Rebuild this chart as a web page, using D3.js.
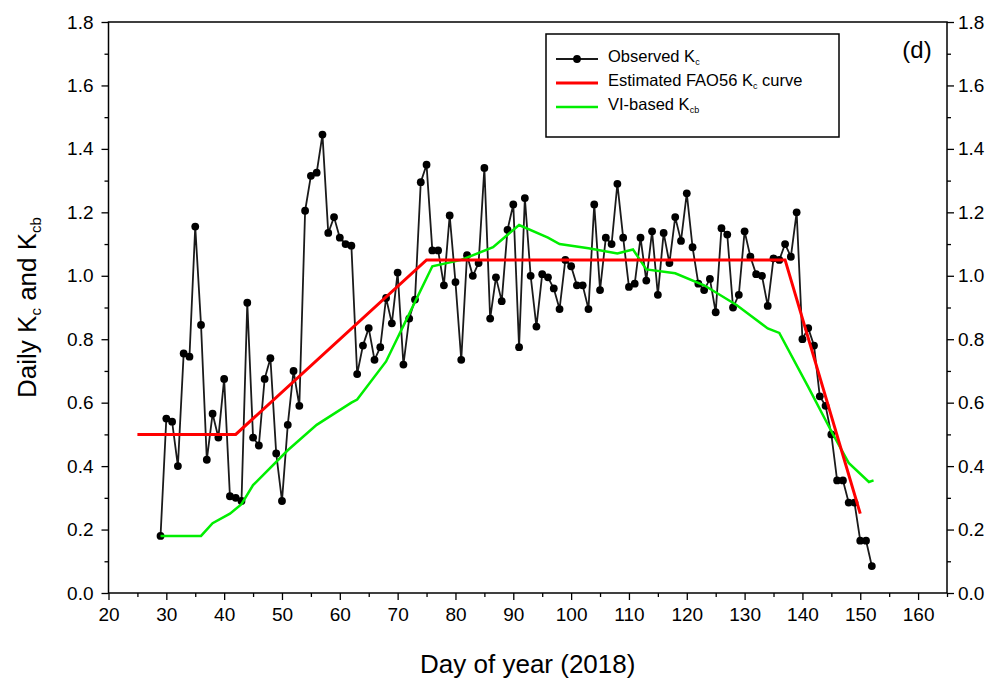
<!DOCTYPE html>
<html>
<head>
<meta charset="utf-8">
<script src="https://cdn.jsdelivr.net/npm/d3@7"></script>
<style>
  body { margin: 0; background: #fff; }
  text { font-family: Arial, "Liberation Sans", sans-serif; }
</style>
</head>
<body>
<div id="chart"></div>
<script>
// Observed daily Kc, one value per day starting at day 29
var obsStartDay = 29;
var obsKc = [
  0.18, 0.55, 0.54, 0.40, 0.755, 0.745, 1.155, 0.845, 0.42, 0.565,   // 29-38
  0.49, 0.675, 0.305, 0.30, 0.29, 0.915, 0.49, 0.465, 0.675, 0.74,   // 39-48
  0.44, 0.29, 0.53, 0.70, 0.59, 1.205, 1.315, 1.325, 1.445, 1.135,   // 49-58
  1.185, 1.12, 1.10, 1.095, 0.69, 0.78, 0.835, 0.735, 0.775, 0.93,   // 59-68
  0.85, 1.01, 0.72, 0.865, 0.925, 1.295, 1.35, 1.08, 1.08, 0.97,     // 69-78
  1.19, 0.98, 0.735, 1.065, 1.00, 1.04, 1.34, 0.865, 0.995, 0.92,    // 79-88
  1.145, 1.225, 0.775, 1.245, 1.00, 0.84, 1.005, 0.995, 0.96, 0.895, // 89-98
  1.05, 1.03, 0.97, 0.97, 0.895, 1.225, 0.955, 1.12, 1.10, 1.29,     // 99-108
  1.12, 0.965, 0.975, 1.12, 0.985, 1.14, 0.94, 1.135, 1.04, 1.185,   // 109-118
  1.11, 1.26, 1.09, 0.975, 0.955, 0.99, 0.885, 1.15, 1.13, 0.90,     // 119-128
  0.94, 1.14, 1.06, 1.005, 1.00, 0.905, 1.055, 1.05, 1.10, 1.06,     // 129-138
  1.20, 0.80, 0.835, 0.78, 0.62, 0.59, 0.50, 0.355, 0.355, 0.285,    // 139-148
  0.285, 0.165, 0.165, 0.085                                         // 149-152
];

// Estimated FAO56 Kc curve (break points)
var faoDays = [25, 42, 75, 137, 150];
var faoKc   = [0.50, 0.50, 1.05, 1.05, 0.25];

// VI-based Kcb
var viDays = [29, 36, 38, 41, 43, 45, 51, 56, 62, 63, 68, 72, 76, 81, 86.5, 91,
              96, 98, 103, 108, 110.7, 113, 118, 123, 128.6, 134, 136, 141, 145, 148, 151.5, 152.3];
var viKcb  = [0.18, 0.18, 0.22, 0.25, 0.28, 0.34, 0.45, 0.53, 0.60, 0.61, 0.73, 0.88, 1.03, 1.05, 1.09, 1.16,
              1.12, 1.10, 1.087, 1.07, 1.083, 1.02, 1.008, 0.97, 0.908, 0.834, 0.82, 0.65, 0.51, 0.41, 0.35, 0.355];

var xTicks = d3.range(20, 161, 10);
var yTicks = d3.range(0, 1.81, 0.2);

var width = 998, height = 683;
var mLeft = 108.5, mRight = 947, mTop = 22, mBottom = 593;

var svg = d3.select('#chart').append('svg')
    .attr('width', width)
    .attr('height', height);

var x = d3.scaleLinear().domain([20, 165]).range([mLeft, mRight]);
var y = d3.scaleLinear().domain([0, 1.8]).range([mBottom, mTop]);

// Axes
var xAxis = d3.axisBottom(x).tickValues(xTicks).tickSize(7).tickPadding(8).tickFormat(d3.format('d'));
var xMinor = d3.axisBottom(x).tickValues(d3.range(25, 166, 10)).tickSize(4).tickFormat('');
var yLeft = d3.axisLeft(y).tickValues(yTicks).tickSize(7).tickPadding(8).tickFormat(d3.format('.1f'));
var yLeftMinor = d3.axisLeft(y).tickValues(d3.range(0.1, 1.8, 0.2)).tickSize(4).tickFormat('');
var yRight = d3.axisRight(y).tickValues(yTicks).tickSize(7).tickPadding(4).tickFormat(d3.format('.1f'));
var yRightMinor = d3.axisRight(y).tickValues(d3.range(0.1, 1.8, 0.2)).tickSize(4).tickFormat('');

function styleAxis(g) {
    g.select('.domain').remove();
    g.selectAll('line').attr('stroke', '#000').attr('stroke-width', 1.3);
    g.selectAll('text').style('font-size', '19px').attr('fill', '#000');
}

svg.append('g').attr('transform', 'translate(0,' + mBottom + ')').call(xAxis).call(styleAxis);
svg.append('g').attr('transform', 'translate(0,' + mBottom + ')').call(xMinor).call(styleAxis);
svg.append('g').attr('transform', 'translate(' + mLeft + ',0)').call(yLeft).call(styleAxis);
svg.append('g').attr('transform', 'translate(' + mLeft + ',0)').call(yLeftMinor).call(styleAxis);
svg.append('g').attr('transform', 'translate(' + mRight + ',0)').call(yRight).call(styleAxis);
svg.append('g').attr('transform', 'translate(' + mRight + ',0)').call(yRightMinor).call(styleAxis);

// Frame
svg.append('rect')
    .attr('x', mLeft).attr('y', mTop)
    .attr('width', mRight - mLeft).attr('height', mBottom - mTop)
    .attr('fill', 'none').attr('stroke', '#000').attr('stroke-width', 1.5);

// Lines
var obs = obsKc.map(function (v, i) { return { day: obsStartDay + i, v: v }; });
var fao = faoDays.map(function (d, i) { return { day: d, v: faoKc[i] }; });
var vi = viDays.map(function (d, i) { return { day: d, v: viKcb[i] }; });

var line = d3.line().x(d => x(d.day)).y(d => y(d.v));

svg.append('path').datum(obs)
    .attr('d', line)
    .attr('fill', 'none').attr('stroke', '#1a1a1a').attr('stroke-width', 1.8);

svg.selectAll('.obsPt').data(obs).enter()
    .append('circle')
    .attr('class', 'obsPt')
    .attr('cx', d => x(d.day)).attr('cy', d => y(d.v))
    .attr('r', 3.9).attr('fill', '#000');

svg.append('path').datum(vi)
    .attr('d', line)
    .attr('fill', 'none').attr('stroke', '#00ee00').attr('stroke-width', 2.5);

svg.append('path').datum(fao)
    .attr('d', line)
    .attr('fill', 'none').attr('stroke', '#ff0000').attr('stroke-width', 3);

// Legend
var legend = svg.append('g');
legend.append('rect')
    .attr('x', 546).attr('y', 34).attr('width', 293).attr('height', 103)
    .attr('fill', '#fff').attr('stroke', '#000').attr('stroke-width', 1.5);

var legendItems = [
    { color: '#1a1a1a', w: 1.8, dot: true, parts: [['Observed K', ''], ['c', 'sub']] },
    { color: '#ff0000', w: 3, dot: false, parts: [['Estimated FAO56 K', ''], ['c', 'sub'], [' curve', '']] },
    { color: '#00ee00', w: 2.5, dot: false, parts: [['VI-based K', ''], ['cb', 'sub']] }
];

legendItems.forEach(function (it, i) {
    var ly = 59 + i * 24;
    legend.append('line')
        .attr('x1', 556).attr('x2', 598).attr('y1', ly).attr('y2', ly)
        .attr('stroke', it.color).attr('stroke-width', it.w);
    if (it.dot) {
        legend.append('circle').attr('cx', 577).attr('cy', ly).attr('r', 3.9).attr('fill', '#000');
    }
    var t = legend.append('text').attr('x', 608).attr('y', ly + 3).style('font-size', '16.5px');
    it.parts.forEach(function (p) {
        var ts = t.append('tspan').text(p[0]);
        if (p[1] === 'sub') ts.attr('baseline-shift', '-35%').style('font-size', '9px');
    });
});

svg.append('text')
    .attr('x', 917).attr('y', 58)
    .attr('text-anchor', 'middle')
    .style('font-size', '24px')
    .text('(d)');

// Axis titles
svg.append('text')
    .attr('x', (mLeft + mRight) / 2).attr('y', 673)
    .attr('text-anchor', 'middle')
    .style('font-size', '26px')
    .text('Day of year (2018)');

var yt = svg.append('text')
    .attr('transform', 'translate(36,' + ((mTop + mBottom) / 2) + ') rotate(-90)')
    .attr('text-anchor', 'middle')
    .style('font-size', '26px');
yt.append('tspan').text('Daily K');
yt.append('tspan').text('c').attr('baseline-shift', '-30%').style('font-size', '15px');
yt.append('tspan').text(' and K');
yt.append('tspan').text('cb').attr('baseline-shift', '-30%').style('font-size', '15px');
</script>
</body>
</html>
